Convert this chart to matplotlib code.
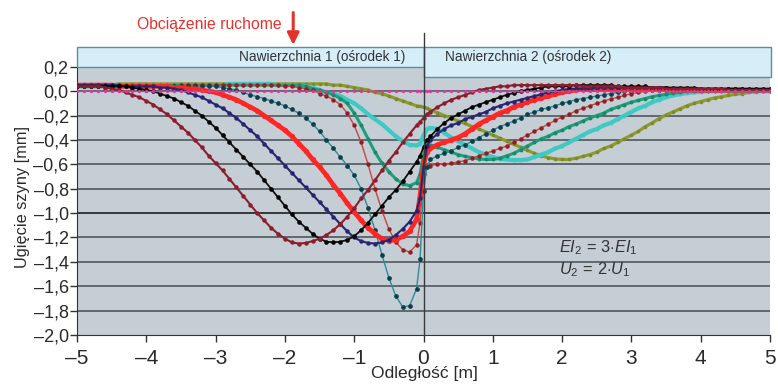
import numpy as np
import matplotlib
matplotlib.use("Agg")
import matplotlib.pyplot as plt
from matplotlib import font_manager
from matplotlib.patches import Rectangle

# fonts: narrow for texts if present, regular for tick numbers
installed = {f.name for f in font_manager.fontManager.ttflist}
narrow_ok = "Liberation Sans Narrow" in installed
narrow = "Liberation Sans Narrow" if narrow_ok else "Liberation Sans"
k = 1.0 if narrow_ok else 0.84   # shrink text when no narrow face is installed
regular = "Liberation Sans"
plt.rcParams["font.family"] = [narrow, "DejaVu Sans"]
plt.rcParams["mathtext.fontset"] = "custom"
plt.rcParams["mathtext.it"] = narrow + ":italic"
plt.rcParams["mathtext.rm"] = narrow

# positions along the rail [m] (extra points around the joint at x = 0)
x_m = np.round(np.concatenate([np.arange(-50, 0) / 10, [-0.05, 0.0, 0.05], np.arange(1, 51) / 10]), 2)

# rail deflection [mm] for successive positions of the moving load
w1 = [0.04, 0.04, 0.04, 0.04, 0.03, 0.02, 0.01, -0.01, -0.03, -0.05,
      -0.08, -0.11, -0.15, -0.19, -0.24, -0.29, -0.34, -0.40, -0.46, -0.53,
      -0.59, -0.65, -0.72, -0.79, -0.86, -0.93, -1.00, -1.06, -1.12, -1.17,
      -1.21, -1.24, -1.25, -1.245, -1.23, -1.21, -1.18, -1.14, -1.09, -1.03,
      -0.96, -0.88, -0.81, -0.73, -0.65, -0.57, -0.50, -0.42, -0.35, -0.28,
      -0.25, -0.22, -0.19,
      -0.17, -0.13, -0.10, -0.07, -0.05, -0.03, -0.01, 0.01, 0.02, 0.03,
      0.04, 0.04, 0.05, 0.05, 0.05, 0.05, 0.05, 0.05, 0.05, 0.05,
      0.05, 0.05, 0.04, 0.04, 0.04, 0.04, 0.04, 0.04, 0.03, 0.03,
      0.03, 0.03, 0.03, 0.03, 0.02, 0.02, 0.02, 0.02, 0.02, 0.02,
      0.02, 0.02, 0.02, 0.01, 0.01, 0.01, 0.01, 0.01, 0.01, 0.01]

w2 = [0.04, 0.04, 0.04, 0.04, 0.04, 0.04, 0.04, 0.04, 0.03, 0.02,
      0.01, 0.0, -0.02, -0.04, -0.06, -0.09, -0.12, -0.16, -0.20, -0.25,
      -0.30, -0.36, -0.42, -0.48, -0.54, -0.60, -0.66, -0.73, -0.80, -0.87,
      -0.94, -1.01, -1.07, -1.12, -1.17, -1.21, -1.235, -1.24, -1.235, -1.22,
      -1.19, -1.14, -1.08, -1.01, -0.94, -0.87, -0.81, -0.74, -0.66, -0.58,
      -0.53, -0.46, -0.40,
      -0.37, -0.31, -0.26, -0.22, -0.19, -0.16, -0.13, -0.11, -0.09, -0.07,
      -0.05, -0.03, -0.015, 0.0, 0.01, 0.02, 0.03, 0.04, 0.04, 0.04,
      0.04, 0.05, 0.05, 0.05, 0.05, 0.05, 0.05, 0.04, 0.04, 0.04,
      0.04, 0.04, 0.03, 0.03, 0.03, 0.03, 0.03, 0.03, 0.03, 0.02,
      0.02, 0.02, 0.02, 0.02, 0.02, 0.02, 0.02, 0.02, 0.02, 0.02]

w3 = [0.05, 0.05, 0.05, 0.05, 0.05, 0.05, 0.05, 0.04, 0.04, 0.04,
      0.04, 0.04, 0.03, 0.03, 0.02, 0.01, -0.01, -0.03, -0.05, -0.08,
      -0.11, -0.14, -0.18, -0.22, -0.27, -0.32, -0.37, -0.43, -0.49, -0.55,
      -0.61, -0.67, -0.73, -0.79, -0.85, -0.91, -0.97, -1.03, -1.09, -1.15,
      -1.20, -1.23, -1.245, -1.25, -1.24, -1.22, -1.18, -1.13, -1.07, -0.98,
      -0.88, -0.62, -0.45,
      -0.40, -0.35, -0.31, -0.28, -0.26, -0.23, -0.21, -0.19, -0.17, -0.14,
      -0.12, -0.10, -0.085, -0.07, -0.055, -0.04, -0.025, -0.01, 0.0, 0.01,
      0.02, 0.02, 0.02, 0.02, 0.03, 0.03, 0.03, 0.03, 0.03, 0.03,
      0.03, 0.03, 0.03, 0.03, 0.03, 0.02, 0.02, 0.02, 0.02, 0.02,
      0.02, 0.02, 0.02, 0.02, 0.02, 0.02, 0.01, 0.01, 0.01, 0.01]

w4 = [0.05, 0.05, 0.05, 0.05, 0.05, 0.05, 0.04, 0.04, 0.04, 0.04,
      0.04, 0.04, 0.04, 0.04, 0.03, 0.03, 0.02, 0.02, 0.01, 0.0,
      -0.01, -0.03, -0.05, -0.07, -0.10, -0.13, -0.16, -0.20, -0.24, -0.28,
      -0.32, -0.37, -0.43, -0.49, -0.56, -0.62, -0.69, -0.77, -0.84, -0.92,
      -0.99, -1.06, -1.12, -1.17, -1.21, -1.225, -1.22, -1.19, -1.15, -1.05,
      -0.86, -0.60, -0.50,
      -0.47, -0.44, -0.42, -0.40, -0.38, -0.35, -0.31, -0.27, -0.24, -0.21,
      -0.18, -0.16, -0.13, -0.11, -0.09, -0.07, -0.055, -0.04, -0.025, -0.01,
      0.0, 0.01, 0.02, 0.02, 0.02, 0.02, 0.02, 0.02, 0.02, 0.02,
      0.02, 0.02, 0.02, 0.02, 0.02, 0.01, 0.01, 0.01, 0.01, 0.01,
      0.01, 0.01, 0.01, 0.01, 0.01, 0.01, 0.01, 0.01, 0.01, 0.01]

w5 = [0.04, 0.04, 0.04, 0.04, 0.04, 0.04, 0.04, 0.04, 0.04, 0.04,
      0.04, 0.04, 0.04, 0.04, 0.04, 0.04, 0.04, 0.04, 0.04, 0.04,
      0.04, 0.03, 0.02, 0.01, -0.01, -0.03, -0.045, -0.06, -0.08, -0.10,
      -0.12, -0.15, -0.18, -0.22, -0.27, -0.33, -0.40, -0.47, -0.54, -0.61,
      -0.69, -0.80, -0.96, -1.14, -1.34, -1.53, -1.68, -1.77, -1.76, -1.62,
      -1.38, -0.82, -0.62,
      -0.56, -0.53, -0.51, -0.49, -0.46, -0.44, -0.41, -0.38, -0.35, -0.32,
      -0.29, -0.27, -0.245, -0.22, -0.19, -0.17, -0.15, -0.135, -0.12, -0.10,
      -0.085, -0.07, -0.06, -0.05, -0.04, -0.03, -0.02, -0.01, 0.0, 0.005,
      0.01, 0.01, 0.01, 0.01, 0.01, 0.01, 0.01, 0.01, 0.01, 0.01,
      0.01, 0.01, 0.01, 0.01, 0.01, 0.01, 0.01, 0.01, 0.01, 0.01]

w6 = [0.04, 0.04, 0.04, 0.04, 0.04, 0.04, 0.04, 0.04, 0.04, 0.04,
      0.04, 0.04, 0.04, 0.04, 0.04, 0.05, 0.05, 0.05, 0.05, 0.05,
      0.05, 0.05, 0.05, 0.05, 0.05, 0.05, 0.05, 0.05, 0.05, 0.05,
      0.04, 0.04, 0.03, 0.02, 0.01, -0.02, -0.04, -0.07, -0.11, -0.18,
      -0.28, -0.42, -0.60, -0.80, -0.98, -1.13, -1.24, -1.30, -1.32, -1.26,
      -1.08, -0.68, -0.61,
      -0.61, -0.60, -0.60, -0.59, -0.58, -0.57, -0.55, -0.53, -0.51, -0.49,
      -0.47, -0.45, -0.42, -0.39, -0.36, -0.33, -0.30, -0.27, -0.24, -0.21,
      -0.19, -0.16, -0.14, -0.12, -0.10, -0.08, -0.065, -0.05, -0.035, -0.02,
      -0.01, 0.0, 0.01, 0.01, 0.01, 0.01, 0.01, 0.01, 0.01, 0.01,
      0.01, 0.01, 0.01, 0.01, 0.01, 0.01, 0.01, 0.01, 0.01, 0.01]

w7 = [0.04, 0.04, 0.04, 0.04, 0.04, 0.04, 0.04, 0.04, 0.04, 0.04,
      0.04, 0.04, 0.05, 0.05, 0.05, 0.05, 0.05, 0.05, 0.05, 0.05,
      0.05, 0.05, 0.05, 0.05, 0.05, 0.05, 0.05, 0.05, 0.05, 0.05,
      0.05, 0.05, 0.05, 0.04, 0.02, 0.01, -0.01, -0.03, -0.06, -0.10,
      -0.18, -0.28, -0.39, -0.50, -0.59, -0.66, -0.72, -0.76, -0.775, -0.75,
      -0.68, -0.52, -0.44,
      -0.44, -0.46, -0.48, -0.50, -0.52, -0.535, -0.545, -0.555, -0.56, -0.56,
      -0.55, -0.53, -0.51, -0.48, -0.45, -0.42, -0.39, -0.37, -0.34, -0.32,
      -0.29, -0.27, -0.245, -0.22, -0.20, -0.18, -0.15, -0.13, -0.11, -0.09,
      -0.075, -0.06, -0.045, -0.035, -0.025, -0.015, -0.01, 0.0, 0.0, 0.0,
      0.0, 0.0, 0.0, 0.0, 0.0, 0.0, 0.0, 0.0, 0.0, 0.0]

w8 = [0.04, 0.04, 0.04, 0.04, 0.04, 0.04, 0.04, 0.04, 0.04, 0.04,
      0.04, 0.04, 0.05, 0.05, 0.05, 0.05, 0.05, 0.05, 0.05, 0.05,
      0.05, 0.05, 0.06, 0.06, 0.06, 0.06, 0.06, 0.06, 0.06, 0.05,
      0.05, 0.05, 0.04, 0.04, 0.03, 0.01, -0.01, -0.02, -0.04, -0.07,
      -0.10, -0.14, -0.19, -0.23, -0.27, -0.32, -0.37, -0.41, -0.44, -0.445,
      -0.43, -0.36, -0.31,
      -0.30, -0.31, -0.34, -0.38, -0.41, -0.44, -0.47, -0.50, -0.52, -0.54,
      -0.555, -0.56, -0.565, -0.565, -0.56, -0.54, -0.52, -0.50, -0.47, -0.45,
      -0.42, -0.39, -0.36, -0.33, -0.31, -0.28, -0.26, -0.23, -0.20, -0.17,
      -0.14, -0.12, -0.09, -0.07, -0.05, -0.035, -0.025, -0.015, -0.01, -0.005,
      0.0, 0.0, 0.0, 0.0, 0.0, 0.0, 0.0, 0.0, 0.0, 0.0]

w9 = [0.04, 0.04, 0.05, 0.05, 0.05, 0.05, 0.06, 0.06, 0.06, 0.06,
      0.06, 0.06, 0.06, 0.06, 0.06, 0.06, 0.06, 0.06, 0.06, 0.06,
      0.06, 0.06, 0.06, 0.06, 0.06, 0.06, 0.06, 0.06, 0.06, 0.06,
      0.06, 0.06, 0.06, 0.06, 0.06, 0.06, 0.06, 0.05, 0.05, 0.04,
      0.03, 0.02, 0.01, -0.01, -0.02, -0.04, -0.06, -0.08, -0.10, -0.12,
      -0.125, -0.13, -0.14,
      -0.155, -0.175, -0.20, -0.22, -0.245, -0.265, -0.29, -0.31, -0.335, -0.36,
      -0.385, -0.41, -0.435, -0.46, -0.485, -0.51, -0.53, -0.545, -0.555, -0.56,
      -0.56, -0.55, -0.535, -0.52, -0.50, -0.47, -0.45, -0.42, -0.39, -0.36,
      -0.33, -0.29, -0.26, -0.225, -0.195, -0.17, -0.145, -0.12, -0.10, -0.085,
      -0.07, -0.055, -0.045, -0.035, -0.025, -0.02, -0.01, -0.005, 0.0, 0.0]

# unloaded reference line
w0 = [0.0] * len(x_m)

x_ticks = [-5, -4, -3, -2, -1, 0, 1, 2, 3, 4, 5]
y_ticks = [-2.0, -1.8, -1.6, -1.4, -1.2, -1.0, -0.8, -0.6, -0.4, -0.2, 0.0, 0.2]


def pl_num(v, fmt):
    return format(v, fmt).replace(".", ",").replace("-", "\u2013")


fig = plt.figure(figsize=(7.78, 3.84), dpi=100)
ax = fig.add_axes([77 / 778, 1 - 335 / 384, 693 / 778, (335 - 46.7) / 384])
ax.set_facecolor("#c5ced5")
ax.set_xlim(-5, 5)
ax.set_ylim(-2.0, 0.365)

for v in y_ticks[1:-1]:
    ax.axhline(v, color="#1e1e1e" if v == -1.0 else "#4e585e", lw=1.2, zorder=1)

# (y, line colour, line width, marker colour, marker size)
series = [
    (w9, "#8d9b2e", 2.3, "#7d8a26", 2.6),
    (w8, "#3fc9c4", 3.0, "#3fc9c4", 2.8),
    (w7, "#1f9f7c", 2.2, "#178a6a", 2.8),
    (w6, "#c8473d", 1.0, "#8e1f25", 3.2),
    (w5, "#2f8a96", 1.0, "#0c3f4a", 3.4),
    (w4, "#ff2626", 3.4, "#ff2626", 3.8),
    (w3, "#27256f", 1.5, "#27256f", 3.2),
    (w2, "#111111", 1.3, "#000000", 3.3),
    (w1, "#8c1d2c", 1.5, "#8c1d2c", 3.2),
]
for i, (w, lc, lw, mc, ms) in enumerate(series):
    ax.plot(x_m, w, color=lc, lw=lw, marker="o", ms=ms, mfc=mc, mec=mc, mew=0, zorder=2 + i)
ax.plot(x_m, w0, color="#d23c9e", lw=0.8, marker="o", ms=2.4, mew=0, zorder=12)

for s in ("top", "right"):
    ax.spines[s].set_visible(False)
ax.spines["left"].set_bounds(-2.0, 0.2)
ax.spines["left"].set_color("#333333")
ax.spines["bottom"].set_color("#333333")

ax.set_xticks(x_ticks)
ax.set_xticklabels([pl_num(v, "d") for v in x_ticks], fontfamily=regular, fontsize=15)
ax.set_yticks(y_ticks)
ax.set_yticklabels([pl_num(v, ".1f") for v in y_ticks], fontfamily=regular, fontsize=13)
ax.tick_params(axis="x", direction="out", length=5, width=1, pad=5, color="#333333", labelcolor="#2a2a2a")
ax.tick_params(axis="y", direction="out", length=5, width=1, pad=1, color="#333333", labelcolor="#2a2a2a")

# pavement boxes above the plot
ax.add_patch(Rectangle((-5, 0.2), 5, 0.165, facecolor="#d6eef8", edgecolor="#5d8f9b",
                       lw=1, zorder=13, clip_on=False))
ax.add_patch(Rectangle((0, 0.117), 5.01, 0.248, facecolor="#d6eef8", edgecolor="#5d8f9b",
                       lw=1, zorder=13, clip_on=False))
ax.text(-1.465, 0.281, "Nawierzchnia 1 (ośrodek 1)", ha="center", va="center",
        fontsize=11.7 * k, color="#333333", zorder=14)
ax.text(0.317, 0.281, "Nawierzchnia 2 (ośrodek 2)", ha="left", va="center",
        fontsize=11.7 * k, color="#333333", zorder=14)

# joint between the two media
ax.plot([0, 0], [-2.0, 0.48], color="#3a3a3a", lw=1, zorder=15, clip_on=False)

ax.text(1.95, -1.28, r"$EI_2\,=\,3{\cdot}EI_1$", ha="left", va="center",
        fontsize=14 * k, color="#333333", zorder=14)
ax.text(1.95, -1.466, r"$U_2\,=\,2{\cdot}U_1$", ha="left", va="center",
        fontsize=14 * k, color="#333333", zorder=14)

# moving load marker
fig.text(209 / 778, 1 - 24 / 384, "Obciążenie ruchome", color="#e5322d", fontsize=13.5 * k,
         ha="center", va="center")
ax.annotate("", xy=(-1.88, 0.38), xytext=(-1.88, 0.645),
            arrowprops=dict(arrowstyle="-|>,head_length=0.7,head_width=0.35", color="#e5322d",
                            lw=2.2, shrinkA=0, shrinkB=0),
            annotation_clip=False)

fig.text(23 / 778, 1 - 197 / 384, "Ugięcie szyny [mm]", rotation=90, ha="center", va="center",
         fontsize=14 * k, color="#2a2a2a")
fig.text(424 / 778, 1 - 366 / 384, "Odległość [m]", ha="center", va="top",
         fontsize=15 * k, color="#2a2a2a")

fig.savefig("out.png", dpi=100)
